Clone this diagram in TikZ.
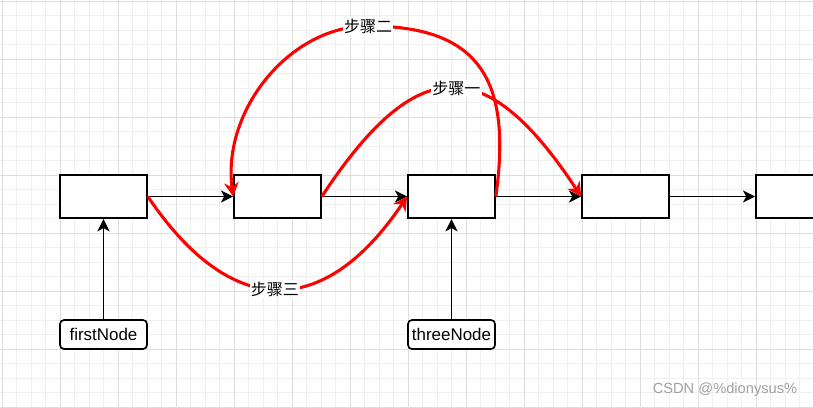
\documentclass[tikz,border=0pt]{standalone}
\usepackage{fontspec}
\setmainfont{Liberation Sans}
\newfontfamily\cjk{Noto Sans CJK SC}
\usetikzlibrary{arrows.meta,positioning}
\definecolor{gridmajor}{RGB}{222,222,222}
\definecolor{gridminor}{RGB}{240,240,240}
\definecolor{wmark}{RGB}{160,160,160}

\begin{document}
\begin{tikzpicture}[x=0.75pt, y=-0.75pt, line width=1.25pt,
  >={Stealth[length=9.2pt,width=9pt,inset=2.5pt]},
  box/.style={draw, fill=white, minimum width=65.25pt, minimum height=32.6pt, inner sep=0pt},
  ptr/.style={draw, fill=white, rounded corners=3pt, minimum width=65.25pt, minimum height=21.75pt, inner sep=0pt, font=\fontsize{12.7}{15}\selectfont},
  redarc/.style={red, line width=2.3pt, -{Stealth[length=10.5pt,width=11pt,inset=3.5pt]}},
  lbl/.style={fill=white, text=black, inner sep=1pt, font=\fontsize{12}{14}\selectfont\cjk}]

\useasboundingbox (0,0) rectangle (813,407);
\clip (0,0) rectangle (813,407);
\fill[white] (0,0) rectangle (813,407);
\foreach \i in {0,...,56} \draw[gridminor, line width=0.75pt] ({2+14.5*\i},0) -- ({2+14.5*\i},407);
\foreach \j in {0,...,28} \draw[gridminor, line width=0.75pt] (0,{1+14.5*\j}) -- (813,{1+14.5*\j});
\foreach \i in {0,...,14} \draw[gridmajor, line width=0.75pt] ({2+58*\i},0) -- ({2+58*\i},407);
\foreach \j in {0,...,7} \draw[gridmajor, line width=0.75pt] (0,{1+58*\j}) -- (813,{1+58*\j});

\node[box] (n1) at (103.5,196.5) {};
\node[box] (n2) at (277.5,196.5) {};
\node[box] (n3) at (451.5,196.5) {};
\node[box] (n4) at (625.5,196.5) {};
\node[box] (n5) at (799.5,196.5) {};
\node[ptr] (first) at (103.5,334.5) {firstNode};
\node[ptr] (three) at (451.5,334.5) {threeNode};

\draw [->] (n1) -- (n2);
\draw [->] (n2) -- (n3);
\draw [->] (n3) -- (n4);
\draw [->] (n4) -- (n5);
\draw [->] (first) -- (n1);
\draw [->] (three) -- (n3);

\draw [redarc] (n2.east) .. controls (417,52) and (486,52) .. node[lbl, pos=0.52] {步骤一} (n4.west);
\draw [redarc] (n3.east) .. controls (512,80) and (480,26) .. (368,26) node[lbl] {步骤二}
  .. controls (290,26) and (222,110) .. (n2.west);
\draw [redarc] (n1.east) .. controls (231,320) and (324,320) .. node[lbl, pos=0.49] {步骤三} (n3.west);

\node[text=wmark, font=\fontsize{11}{13}\selectfont] (mark) at (725,390) {CSDN @\%dionysus\%};

\end{tikzpicture}
\end{document}
